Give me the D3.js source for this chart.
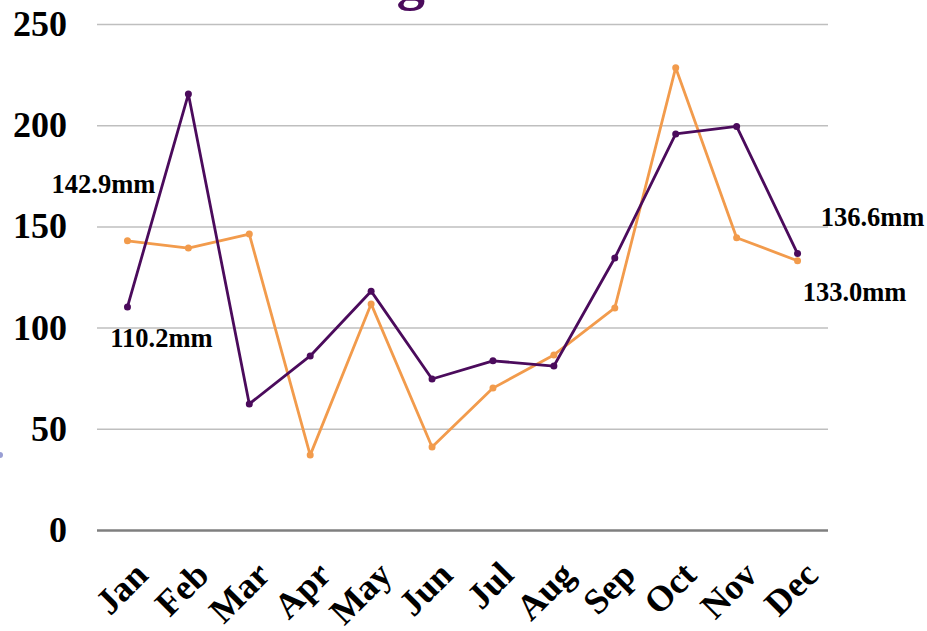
<!DOCTYPE html>
<html>
<head>
<meta charset="utf-8">
<script src="https://cdn.jsdelivr.net/npm/d3@7"></script>
<style>
  body { margin: 0; background: #fff; }
  svg text { font-family: "Liberation Serif", "Times New Roman", serif; font-weight: bold; }
</style>
</head>
<body>
<div id="chart"></div>
<script>
// Données
const months = ["Jan", "Feb", "Mar", "Apr", "May", "Jun", "Jul", "Aug", "Sep", "Oct", "Nov", "Dec"];
const seriesPurple = [110.2, 215.4, 62.3, 86.0, 118.0, 74.6, 83.6, 81.0, 134.4, 195.7, 199.4, 136.6];
const seriesOrange = [142.9, 139.3, 146.2, 37.0, 111.7, 41.0, 70.1, 86.5, 109.7, 228.4, 144.4, 133.0];
const yTicks = [0, 50, 100, 150, 200, 250];
const titleText = "Average Rainfall";

const width = 927, height = 631;
const margin = { top: 24, right: 99, bottom: 101, left: 97 };
const purple = "#4b0b5c", orange = "#f29b4c";

const svg = d3.select("#chart").append("svg")
  .attr("width", width)
  .attr("height", height)
  .attr("viewBox", `0 0 ${width} ${height}`);

const xScale = d3.scalePoint()
  .domain(months)
  .range([margin.left, width - margin.right])
  .padding(0.5);

const yScale = d3.scaleLinear()
  .domain([0, 250])
  .range([height - margin.bottom, margin.top]);

// Title (mostly cut at the top, as in the original)
svg.append("text")
  .attr("x", 252)
  .attr("y", -1)
  .attr("fill", purple)
  .style("font-size", "57px")
  .text(titleText);

// GRID + Y axis
const yAxis = svg.append("g")
  .attr("transform", `translate(${margin.left},0)`)
  .call(d3.axisLeft(yScale)
    .tickValues(yTicks)
    .tickSize(-(width - margin.left - margin.right))
    .tickPadding(30));

yAxis.select(".domain").remove();
yAxis.selectAll(".tick line")
  .attr("stroke", d => d === 0 ? "#7f7f7f" : "#bfbfbf")
  .attr("stroke-width", d => d === 0 ? 2.5 : 1.5);
yAxis.selectAll(".tick text")
  .attr("fill", "#000")
  .style("font-size", "36px");

// X axis (months)
const xAxis = svg.append("g")
  .attr("transform", `translate(0,${yScale(0)})`)
  .call(d3.axisBottom(xScale).tickSize(0));

xAxis.select(".domain").remove();
xAxis.selectAll(".tick text")
  .attr("fill", "#000")
  .attr("x", 0)
  .attr("y", 0)
  .attr("dy", 0)
  .attr("text-anchor", "end")
  .attr("transform", "translate(22,47) rotate(-45)")
  .style("font-size", "36px");

// LINES
const line = d3.line()
  .x((d, i) => xScale(months[i]))
  .y(d => yScale(d));

function drawSeries(values, color) {
  svg.append("path")
    .datum(values)
    .attr("fill", "none")
    .attr("stroke", color)
    .attr("stroke-width", 2.8)
    .attr("stroke-linejoin", "round")
    .attr("d", line);

  svg.selectAll(null)
    .data(values)
    .enter()
    .append("circle")
      .attr("cx", (d, i) => xScale(months[i]))
      .attr("cy", d => yScale(d))
      .attr("r", 3.5)
      .attr("fill", color);
}

drawSeries(seriesOrange, orange);
drawSeries(seriesPurple, purple);

// Value labels for first and last points
const fmt = d => d.toFixed(1) + "mm";
const labels = [
  { value: seriesOrange[0], month: months[0], dx: -24, dy: -48 },
  { value: seriesPurple[0], month: months[0], dx: 34, dy: 40 },
  { value: seriesPurple[11], month: months[11], dx: 75, dy: -28 },
  { value: seriesOrange[11], month: months[11], dx: 57, dy: 40 }
];

svg.selectAll(".value-label")
  .data(labels)
  .enter()
  .append("text")
    .attr("class", "value-label")
    .attr("x", d => xScale(d.month) + d.dx)
    .attr("y", d => yScale(d.value) + d.dy)
    .attr("text-anchor", "middle")
    .attr("fill", "#000")
    .style("font-size", "26.5px")
    .text(d => fmt(d.value));

// small clipped marker on the left edge
svg.append("circle")
  .attr("cx", 0)
  .attr("cy", 455)
  .attr("r", 3)
  .attr("fill", "#7f86c9")
  .attr("opacity", 0.8);
</script>
</body>
</html>
